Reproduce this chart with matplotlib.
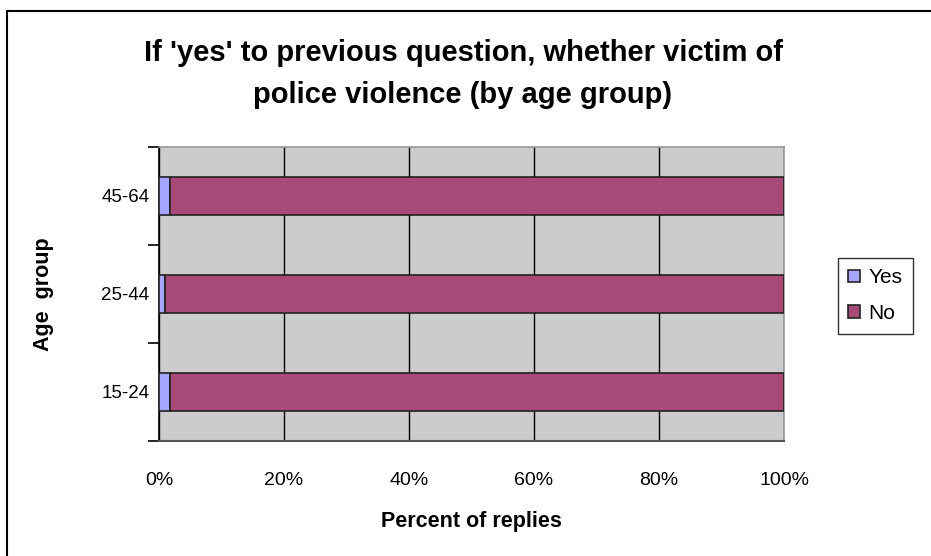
import matplotlib
matplotlib.use("Agg")
import matplotlib.pyplot as plt
from matplotlib.patches import Rectangle
from matplotlib.ticker import FixedLocator, FuncFormatter

plt.rcParams['font.family'] = ['Liberation Sans', 'DejaVu Sans']

categories = ["15-24", "25-44", "45-64"]
yes_vals = [1.8, 0.9, 1.8]
no_vals = [98.2, 99.1, 98.2]
x_ticks = [0, 20, 40, 60, 80, 100]

fig = plt.figure(figsize=(9.31, 5.56), dpi=100)
W, H = 931, 556
ax = fig.add_axes([159 / W, 1 - 441 / H, (784 - 159) / W, (441 - 147) / H])
ax.set_facecolor("#CCCCCC")

ypos = list(range(len(categories)))
h = 0.38
ax.barh(ypos, yes_vals, height=h, color="#A6A6FF", edgecolor="#222222", linewidth=1.2, label="Yes", zorder=3)
ax.barh(ypos, no_vals, left=yes_vals, height=h, color="#A84A78", edgecolor="#222222", linewidth=1.2, label="No", zorder=3)

ax.set_xlim(0, 100)
ax.set_ylim(-0.5, len(categories) - 0.5)
ax.set_xticks(x_ticks)
ax.xaxis.set_major_formatter(FuncFormatter(lambda v, p: f"{int(v)}%"))
ax.tick_params(axis="x", length=0, labelsize=14, pad=22)
ax.grid(axis="x", color="black", linewidth=1.0, zorder=1)

ax.set_yticks(ypos)
ax.set_yticklabels(categories)
ax.tick_params(axis="y", which="major", length=0, labelsize=13.5, pad=7)
ax.yaxis.set_minor_locator(FixedLocator([-0.5, 0.5, 1.5, 2.5]))
ax.tick_params(axis="y", which="minor", length=8, width=1.2, color="black")

for s in ["top", "right"]:
    ax.spines[s].set_color("#999999")
    ax.spines[s].set_linewidth(1.2)
ax.spines["left"].set_color("black")
ax.spines["left"].set_linewidth(1.2)
ax.spines["bottom"].set_color("#555555")
ax.spines["bottom"].set_linewidth(1.5)

ax.set_xlabel("Percent of replies", fontsize=15.5, fontweight="bold", labelpad=16)
ax.set_ylabel("Age  group", fontsize=15.5, fontweight="bold", labelpad=34)

fig.text(463 / W, 1 - 74 / H, "If 'yes' to previous question, whether victim of\npolice violence (by age group)",
         ha="center", va="center", fontsize=21, fontweight="bold", linespacing=1.6)

leg = fig.legend(loc="upper left", bbox_to_anchor=(838 / W, 1 - 258 / H), fontsize=15,
                 frameon=True, fancybox=False, edgecolor="black", handlelength=0.55, handleheight=0.55,
                 handletextpad=0.4, borderpad=0.5, labelspacing=0.8, borderaxespad=0)
leg.get_frame().set_linewidth(1.0)

fig.patches.append(Rectangle((7 / W, -0.1), 1.2, 1 - 11 / H + 0.1, transform=fig.transFigure,
                             fill=False, edgecolor="black", linewidth=1.5))

fig.savefig("out.png", dpi=100)
